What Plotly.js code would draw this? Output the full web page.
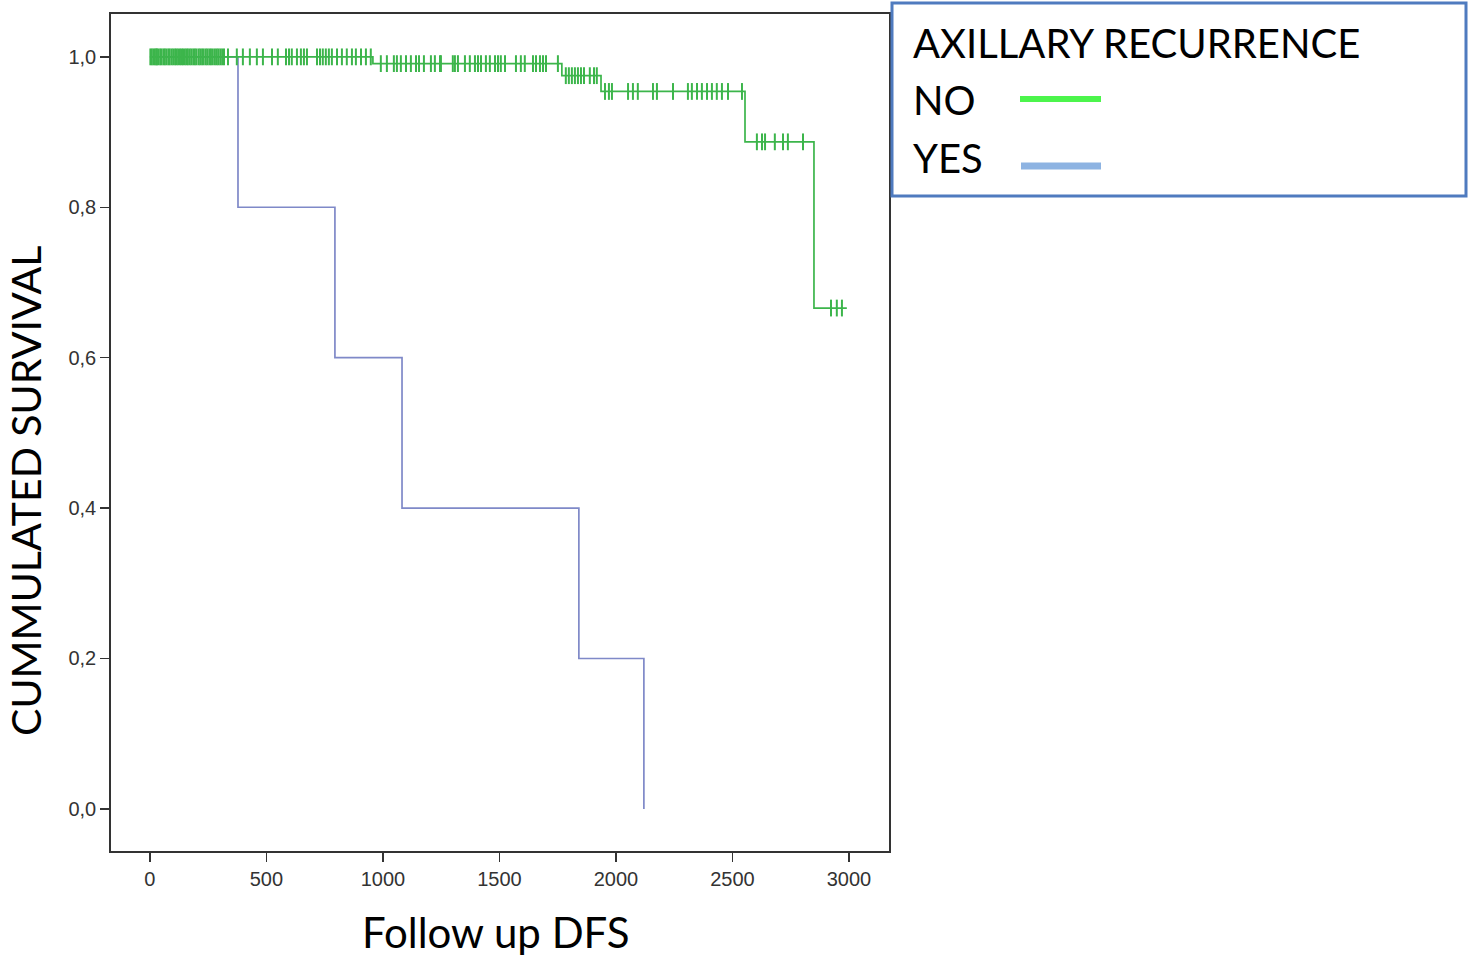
<!DOCTYPE html>
<html>
<head>
<meta charset="utf-8">
<script src="https://cdn.plot.ly/plotly-3.0.1.min.js"></script>
<style>html,body{margin:0;padding:0;background:#fff;}#chart{width:1468px;height:960px;}</style>
</head>
<body>
<div id="chart"></div>
<script>
// Kaplan-Meier: AXILLARY RECURRENCE = NO
const noEventTimes = [0, 957, 1768, 1936, 2554, 2850];
const noSurvival   = [1.0, 0.991, 0.975, 0.954, 0.887, 0.666];
const noLastTime   = 2991;
const noCensored = [2, 8, 15, 21, 27, 30, 36, 44, 50, 58, 64, 71, 79, 85, 93, 100, 108, 114, 121, 129,
  136, 142, 150, 157, 163, 171, 178, 186, 193, 200, 209, 216, 224, 231, 240, 247, 255, 262, 270, 279,
  287, 294, 302, 310, 318, 335, 373, 399, 429, 459, 485, 524, 549,
  584, 597, 609, 631, 648, 661, 674, 717, 730, 742, 755, 768, 781, 803, 824, 845, 867, 884, 906, 927, 948,
  991, 1017, 1047, 1060, 1077, 1099, 1120, 1142, 1155, 1176, 1206, 1223, 1245, 1249, 1300, 1309, 1322,
  1352, 1373, 1395, 1408, 1421, 1442, 1459, 1481, 1494, 1506, 1524, 1571, 1592, 1609, 1644, 1657, 1674,
  1687, 1700, 1751,
  1785, 1798, 1811, 1824, 1837, 1850, 1863, 1888, 1906, 1918,
  1953, 1970, 1983, 2052, 2073, 2094, 2159, 2176, 2245, 2309, 2326, 2348, 2369, 2391, 2412, 2433, 2455,
  2481, 2541,
  2605, 2627, 2640, 2682, 2717, 2738, 2803,
  2923, 2948, 2970];

// Kaplan-Meier: AXILLARY RECURRENCE = YES
const yesEventTimes = [0, 378, 794, 1082, 1841, 2120];
const yesSurvival   = [1.0, 0.8, 0.6, 0.4, 0.2, 0.0];

const xTicks = [0, 500, 1000, 1500, 2000, 2500, 3000];
const yTicks = [0, 0.2, 0.4, 0.6, 0.8, 1.0];

const legendTitle = 'AXILLARY RECURRENCE';
const groupLabels = ['NO', 'YES'];
const xTitle = 'Follow up DFS';
const yTitle = 'CUMMULATED SURVIVAL';

function survAt(times, surv, t) {
  let s = surv[0];
  for (let i = 0; i < times.length; i++) { if (times[i] <= t) s = surv[i]; }
  return s;
}

const greenLine = '#3cb54b';
const blueLine = '#7f89c8';

const traces = [
  {
    x: yesEventTimes, y: yesSurvival, type: 'scatter', mode: 'lines',
    line: {shape: 'hv', color: blueLine, width: 1.7}, name: groupLabels[1], showlegend: false
  },
  {
    x: noEventTimes.concat([noLastTime]), y: noSurvival.concat([noSurvival[noSurvival.length - 1]]),
    type: 'scatter', mode: 'lines',
    line: {shape: 'hv', color: greenLine, width: 1.7}, name: groupLabels[0], showlegend: false
  },
  {
    x: noCensored, y: noCensored.map(t => survAt(noEventTimes, noSurvival, t)),
    type: 'scatter', mode: 'markers',
    marker: {symbol: 'line-ns', size: 12, line: {color: greenLine, width: 2}},
    name: groupLabels[0] + ' censored', showlegend: false
  }
];

const W = 1468, H = 960, L = 111, R = 889, T = 14, B = 851;
const px = x => (x - L) / (R - L);
const py = y => (B - y) / (B - T);

const titleFont = {family: 'Lato, "Open Sans", sans-serif', size: 40, color: '#000'};
const xTitleFont = {family: 'Lato, "Open Sans", sans-serif', size: 42, color: '#000'};
const yTitleFont = {family: 'Lato, "Open Sans", sans-serif', size: 41, color: '#000'};

const layout = {
  width: W, height: H,
  margin: {l: L, r: W - R, t: T, b: H - B, pad: 0},
  paper_bgcolor: '#fff', plot_bgcolor: '#fff',
  separators: ',.',
  showlegend: false,
  xaxis: {
    range: [-167, 3172], tickvals: xTicks, ticks: 'outside', ticklen: 9, tickwidth: 1.5, tickcolor: '#333',
    showgrid: false, zeroline: false, showline: true, mirror: true, linecolor: '#333', linewidth: 1.8,
    tickfont: {family: '"Liberation Sans", Arial, sans-serif', size: 20, color: '#333'}
  },
  yaxis: {
    range: [-0.056, 1.057], tickvals: yTicks, tickformat: '.1f', ticks: 'outside', ticklen: 9, tickwidth: 1.5,
    tickcolor: '#333', showgrid: false, zeroline: false, showline: true, mirror: true, linecolor: '#333',
    linewidth: 1.8, tickfont: {family: '"Liberation Sans", Arial, sans-serif', size: 20, color: '#333'}
  },
  shapes: [
    {type: 'rect', xref: 'paper', yref: 'paper', x0: px(892), x1: px(1466), y0: py(3), y1: py(196),
     line: {color: '#4f7bbf', width: 3}, fillcolor: 'rgba(0,0,0,0)'},
    {type: 'line', xref: 'paper', yref: 'paper', x0: px(1020), x1: px(1101), y0: py(99), y1: py(99),
     line: {color: '#4cf54c', width: 6}},
    {type: 'line', xref: 'paper', yref: 'paper', x0: px(1021), x1: px(1101), y0: py(166), y1: py(166),
     line: {color: '#8db3e2', width: 7}}
  ],
  annotations: [
    {text: legendTitle, xref: 'paper', yref: 'paper', x: px(911), y: py(43), xanchor: 'left', yanchor: 'middle',
     showarrow: false, font: titleFont},
    {text: groupLabels[0], xref: 'paper', yref: 'paper', x: px(911), y: py(100), xanchor: 'left', yanchor: 'middle',
     showarrow: false, font: titleFont},
    {text: groupLabels[1], xref: 'paper', yref: 'paper', x: px(911), y: py(158), xanchor: 'left', yanchor: 'middle',
     showarrow: false, font: titleFont},
    {text: xTitle, xref: 'paper', yref: 'paper', x: px(495), y: py(932), xanchor: 'center', yanchor: 'middle',
     showarrow: false, font: xTitleFont},
    {text: yTitle, xref: 'paper', yref: 'paper', x: px(26), y: py(491), xanchor: 'center', yanchor: 'middle',
     textangle: -90, showarrow: false, font: yTitleFont}
  ]
};

Plotly.newPlot('chart', traces, layout, {displayModeBar: false, staticPlot: true});
</script>
</body>
</html>
